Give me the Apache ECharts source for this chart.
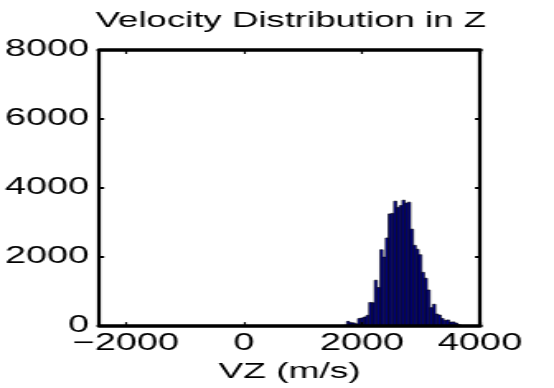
<!DOCTYPE html>
<html>
<head>
<meta charset="utf-8">
<title>Velocity Distribution in Z</title>
<script src="https://cdn.jsdelivr.net/npm/echarts@6/dist/echarts.min.js"></script>
<style>
    html, body { margin: 0; padding: 0; background: #fff; overflow: hidden; }
    /* the original figure is stretched sideways, so draw narrow and scale in x */
    #main { width: 336px; height: 388px; transform: scaleX(1.64881); transform-origin: 0 0; }
</style>
</head>
<body>
<div id="main"></div>
<script>
// histogram bins (m/s) and counts
var binWidth = 47;
var binCenters = [1625, 1672, 1719, 1766, 1813, 1860, 1907, 1954, 2001, 2048, 2095,
    2142, 2189, 2236, 2283, 2330, 2377, 2424, 2471, 2518, 2565, 2612, 2659, 2706,
    2753, 2800, 2847, 2894, 2941, 2988, 3035, 3082, 3129, 3176, 3223, 3270, 3317,
    3364, 3411, 3458, 3505, 3552, 3599, 3646];
var counts = [15, 20, 25, 137, 100, 94, 65, 222, 236, 264, 313,
    685, 677, 1331, 1118, 2213, 1999, 2554, 3251, 3265, 3620, 3436, 3492, 3649,
    3564, 3592, 2810, 2341, 2227, 2070, 1558, 1388, 1047, 535, 634, 350, 321,
    222, 165, 179, 117, 122, 88, 40];
var xTicks = [-2000, 0, 2000, 4000];
var yTicks = [0, 2000, 4000, 6000, 8000];

var fontFamily = '"Liberation Sans", Arial, Helvetica, sans-serif';

var data = [];
for (var i = 0; i < binCenters.length; i++) {
    data.push([binCenters[i], counts[i]]);
}

function fmtTick(v) {
    return v < 0 ? '\u2212' + Math.abs(v) : String(v);
}

function renderBar(params, api) {
    var c = api.value(0), v = api.value(1);
    var p0 = api.coord([c - binWidth / 2, v]);
    var p1 = api.coord([c + binWidth / 2, 0]);
    return {
        type: 'rect',
        shape: { x: p0[0], y: p0[1], width: p1[0] - p0[0], height: p1[1] - p0[1] },
        style: { fill: '#00009a', stroke: '#000', lineWidth: 0.6 }
    };
}

// box round the plot, like matlab's "box on"
var boxX = { show: true, onZero: false, lineStyle: { color: '#000', width: 3.5 } };
var boxY = { show: true, onZero: false, lineStyle: { color: '#000', width: 2.2 } };

var myChart = echarts.init(document.getElementById('main'), null, { renderer: 'canvas' });
myChart.setOption({
    animation: false,
    backgroundColor: '#fff',
    title: {
        text: 'Velocity Distribution in Z',
        left: 58,
        top: 10,
        padding: 0,
        textStyle: { fontFamily: fontFamily, fontSize: 22.2, fontWeight: 'normal', color: '#000' }
    },
    grid: { left: 57.8, right: 44.9, top: 50, bottom: 56.7, containLabel: false },
    xAxis: [{
        type: 'value',
        min: -2450,
        max: 4000,
        z: 5,
        axisLine: boxX,
        axisTick: { show: true, inside: true, length: 4, customValues: xTicks, lineStyle: { color: '#000', width: 1.2 } },
        axisLabel: {
            customValues: xTicks, margin: 6, formatter: fmtTick,
            fontFamily: fontFamily, fontSize: 23, color: '#000'
        },
        splitLine: { show: false },
        name: 'VZ (m/s)',
        nameLocation: 'middle',
        nameGap: 29,
        nameTextStyle: { fontFamily: fontFamily, fontSize: 22.5, color: '#000' }
    }, {
        type: 'value',
        position: 'top',
        min: -2450,
        max: 4000,
        z: 5,
        axisLine: boxX,
        axisTick: { show: true, inside: true, length: 4, customValues: xTicks, lineStyle: { color: '#000', width: 1.2 } },
        axisLabel: { show: false, customValues: xTicks },
        splitLine: { show: false }
    }],
    yAxis: [{
        type: 'value',
        min: 0,
        max: 8000,
        interval: 2000,
        z: 5,
        axisLine: boxY,
        axisTick: { show: true, inside: true, length: 3, lineStyle: { color: '#000', width: 2 } },
        axisLabel: {
            margin: 6, formatter: fmtTick,
            fontFamily: fontFamily, fontSize: 23, color: '#000'
        },
        splitLine: { show: false }
    }, {
        type: 'value',
        position: 'right',
        min: 0,
        max: 8000,
        interval: 2000,
        z: 5,
        axisLine: boxY,
        axisTick: { show: true, inside: true, length: 3, lineStyle: { color: '#000', width: 2 } },
        axisLabel: { show: false },
        splitLine: { show: false }
    }],
    series: [{
        type: 'custom',
        name: 'VZ',
        xAxisIndex: 0,
        yAxisIndex: 0,
        z: 2,
        renderItem: renderBar,
        encode: { x: 0, y: 1 },
        data: data
    }]
});
</script>
</body>
</html>
